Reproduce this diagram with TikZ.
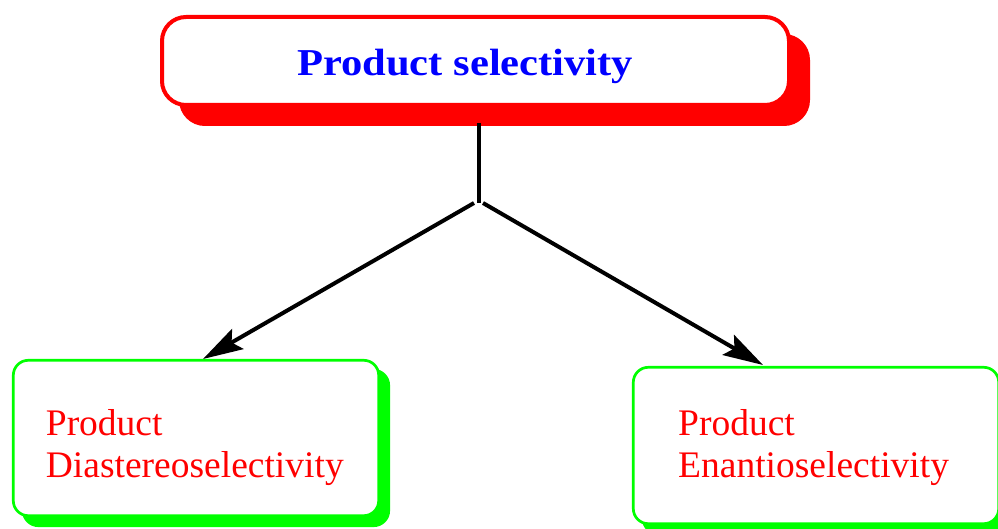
\documentclass[tikz,border=0pt]{standalone}
\usepackage{fontspec}
\setmainfont{Liberation Serif}
\usetikzlibrary{arrows.meta,shadows}
\definecolor{pred}{rgb}{1,0,0}
\definecolor{pblue}{rgb}{0,0,1}
\definecolor{pgreen}{rgb}{0,1,0}
\tikzset{
  mainbox/.style={draw=pred, fill=white, line width=4pt, rounded corners=24pt,
    minimum width=627pt, minimum height=88pt, inner sep=0pt, outer sep=0pt,
    general shadow={draw=pred, fill=pred, line width=4pt, shadow xshift=19pt, shadow yshift=-19pt}},
  subbox/.style={draw=pgreen, fill=white, line width=2.7pt, rounded corners=15pt,
    minimum width=365.4pt, minimum height=155.4pt, inner sep=0pt, outer sep=0pt,
    general shadow={draw=pgreen, fill=pgreen, line width=2.7pt, shadow xshift=10pt, shadow yshift=-10pt}},
  toptext/.style={text=pblue, font=\fontsize{38}{44}\selectfont\bfseries, inner sep=0pt, anchor=base west},
  subtext/.style={text=pred, font=\fontsize{37.5}{42}\selectfont, inner sep=0pt, anchor=base west},
  conn/.style={line width=4pt, black},
  arr/.style={conn, -{Stealth[length=40pt, width=23pt, inset=7pt]}}
}
\begin{document}
\begin{tikzpicture}[x=1pt,y=-1pt]
\useasboundingbox (0,0) rectangle (998,529);
\node[mainbox] (top) at (475.5,61) {};
\node[toptext] (toplabel) at (297,76) {\scalebox{1.12}[1]{Product selectivity}};
\node[subbox] (left) at (196,438) {};
\node[subtext] (leftl1) at (45.7,435) {Product};
\node[subtext] (leftl2) at (45.7,477) {Diastereoselectivity};
\node[subbox, minimum height=156.4pt] (right) at (816,445.5) {};
\node[subtext] (rightl1) at (678,435) {Product};
\node[subtext] (rightl2) at (678,477) {Enantioselectivity};
\coordinate (vtop) at (479,123);
\coordinate (vbot) at (479,203);
\coordinate (jl) at (474,203);
\coordinate (jr) at (483,203);
\coordinate (tipl) at (203,359);
\coordinate (tipr) at (763,365);
\draw[conn] (vtop) -- (vbot);
\draw[arr] (jl) -- (tipl);
\draw[arr] (jr) -- (tipr);
\end{tikzpicture}
\end{document}
